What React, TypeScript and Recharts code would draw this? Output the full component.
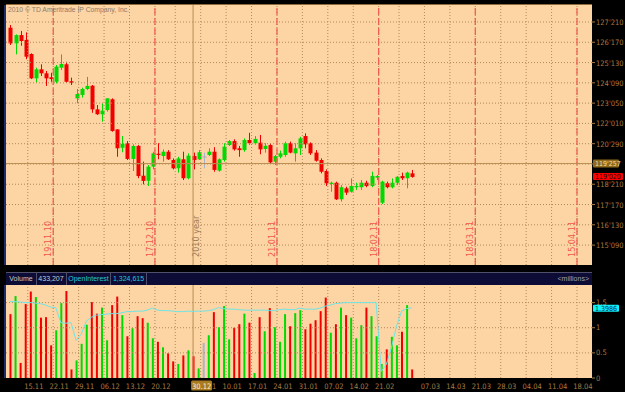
import React from 'react';
import { ComposedChart, Bar, Line, XAxis, YAxis, ReferenceLine, CartesianGrid, Cell } from 'recharts';

// daily OHLC, one entry per trading day (08.11.2010 .. 02.03.2011)
const opens = [
  127.34, 126.47, 126.93, 126.66, 125.88, 124.53, 125.03, 124.81, 124.59, 124.34,
  125.12, 125.31, 124.37, 123.42, 123.61, 123.94, 124.12, 122.81, 122.54, 122.77,
  123.37, 121.7, 120.68, 120.93, 120.06, 120.78, 119.13, 118.85, 119.63, 120.35,
  120.22, 120.46, 120.0, 119.54, 120.04, 118.99, 120.22, 120.04, 120.2, 120.28,
  120.46, 119.41, 120.0, 120.83, 121.05, 120.65, 120.55, 121.11, 120.93, 120.96,
  120.61, 120.83, 119.91, 120.18, 120.28, 120.93, 120.37, 120.65, 121.33, 120.93,
  120.41, 120.0, 119.39, 118.67, 118.74, 117.82, 118.43, 118.24, 118.49, 118.49,
  118.74, 118.56, 119.02, 117.63, 118.71, 118.49, 118.74, 119.11, 118.99, 119.26,
];
const highs = [
  127.49, 126.97, 127.16, 127.08, 125.92, 125.12, 125.31, 124.94, 124.84, 125.27,
  125.86, 125.45, 124.57, 123.94, 124.01, 124.61, 124.16, 123.05, 123.15, 123.42,
  123.42, 121.7, 121.33, 121.05, 120.87, 120.83, 119.91, 119.72, 120.46, 120.93,
  120.59, 120.55, 120.09, 120.18, 120.46, 120.37, 120.41, 120.55, 120.41, 120.65,
  120.71, 120.09, 120.93, 121.11, 121.15, 120.78, 121.2, 121.51, 121.33, 121.39,
  120.93, 120.93, 120.28, 120.52, 121.02, 121.02, 120.93, 121.29, 121.48, 120.98,
  120.55, 120.09, 119.48, 118.8, 118.8, 118.61, 118.52, 118.98, 118.74, 118.89,
  118.85, 119.35, 119.17, 118.85, 118.8, 118.98, 119.11, 119.3, 119.35, 119.45,
];
const lows = [
  126.38, 125.86, 126.34, 125.59, 124.49, 124.29, 124.66, 124.11, 124.34, 124.25,
  124.99, 124.29, 124.16, 123.15, 123.46, 123.88, 122.62, 122.5, 122.13, 122.68,
  121.57, 120.18, 120.43, 120.0, 119.39, 118.99, 118.65, 118.56, 119.48, 120.04,
  119.91, 120.0, 119.48, 119.3, 118.89, 118.93, 119.48, 120.0, 119.54, 120.22,
  119.35, 119.35, 119.91, 120.78, 120.52, 120.18, 120.46, 120.85, 120.85, 120.32,
  120.41, 119.82, 119.72, 120.09, 120.18, 120.37, 119.91, 120.28, 120.65, 120.28,
  119.91, 119.26, 118.56, 118.24, 117.78, 117.69, 118.06, 118.19, 118.34, 118.34,
  118.49, 118.49, 118.89, 117.56, 118.43, 118.43, 118.61, 118.89, 118.43, 119.02,
];
const closes = [
  126.47, 126.93, 126.6, 125.73, 124.53, 125.03, 124.81, 124.53, 124.49, 125.18,
  125.33, 124.34, 124.29, 123.66, 123.94, 124.11, 122.81, 122.54, 122.74, 123.42,
  121.61, 120.65, 120.89, 120.06, 120.78, 119.11, 118.84, 119.63, 120.37, 120.28,
  120.46, 120.04, 119.54, 120.09, 118.99, 120.24, 120.0, 120.43, 120.2, 120.46,
  119.45, 120.04, 120.74, 121.05, 120.59, 120.55, 121.11, 120.93, 121.17, 120.59,
  120.79, 119.87, 120.22, 120.37, 120.93, 120.41, 120.65, 121.2, 120.87, 120.37,
  119.96, 119.35, 118.71, 118.74, 117.82, 118.49, 118.19, 118.56, 118.56, 118.74,
  118.56, 119.11, 119.11, 118.8, 118.49, 118.74, 119.07, 118.99, 119.3, 119.0625,
];
// volume and open interest, millions
const volumes = [
  1.27, 1.63, 0.3, 1.47, 1.72, 1.61, 1.2, 1.21, 0.65, 0.95,
  1.49, 1.73, 0.17, 0.35, 0.68, 1.06, 1.51, 1.28, 1.4, 0.75,
  1.45, 1.62, 1.25, 0.83, 0.99, 1.23, 1.19, 1.1, 0.79, 0.72,
  0.61, 0.49, 0.33, 0.28, 0.45, 0.55, 0.433, 0.19, 0.7, 0.85,
  1.31, 1.01, 1.43, 0.77, 1.0, 1.07, 1.28, 1.1, 0.1, 1.21,
  0.93, 1.39, 1.01, 0.72, 1.27, 1.03, 1.29, 1.35, 0.97, 1.08,
  1.15, 1.33, 1.6, 0.9, 1.07, 1.4, 1.25, 1.2, 0.79, 1.05,
  1.4, 1.23, 0.83, 0.28, 0.57, 0.82, 0.65, 0.92, 1.45, 0.17,
];
const openInterest = [
  1.52, 1.52, 1.51, 1.5, 1.5, 1.49, 1.48, 1.45, 1.41, 1.4,
  1.1, 1.09, 1.1, 0.75, 0.87, 1.13, 1.21, 1.25, 1.26, 1.27,
  1.28, 1.28, 1.3, 1.32, 1.32, 1.33, 1.33, 1.35, 1.39, 1.35,
  1.34, 1.34, 1.33, 1.32, 1.32, 1.33, 1.325, 1.33, 1.33, 1.34,
  1.36, 1.4, 1.38, 1.37, 1.37, 1.36, 1.35, 1.35, 1.35, 1.35,
  1.35, 1.34, 1.34, 1.36, 1.37, 1.36, 1.36, 1.39, 1.37, 1.37,
  1.37, 1.39, 1.43, 1.45, 1.48, 1.49, 1.5, 1.5, 1.5, 1.5,
  1.5, 1.5, 1.5, 0.13, 0.27, 0.6, 1.03, 1.33, 1.38, 1.3986,
];

const priceTicks = [
  115.28125, 116.40625, 117.53125, 118.65625, 119.78125, 120.90625,
  122.03125, 123.15625, 124.28125, 125.40625, 126.53125, 127.65625,
];
const volumeTicks = [0, 0.5, 1, 1.5];

// week boundaries in trading-day units, and their labels ('' = hidden)
const weekStarts = [3.5, 8.5, 13.5, 18.5, 23.5, 28.5, 32.5, 37.5, 42.5, 47.5, 52.5, 57.5,
  62.5, 67.5, 72.5, 76.5, 81.5, 86.5, 91.5, 96.5, 101.5, 106.5, 111.5];
const weekLabels = ['15.11', '22.11', '29.11', '06.12', '13.12', '20.12', '', '03.01', '10.01',
  '17.01', '24.01', '31.01', '07.02', '14.02', '21.02', '', '07.03', '14.03', '21.03', '28.03',
  '04.04', '11.04', '18.04'];
const expiryAt = [8.5, 28.5, 52.5, 72.5, 91.5, 111.5];
const expiryLabels = ['19.11.10', '17.12.10', '21.01.11', '18.02.11', '18.03.11', '15.04.11'];
const yearAt = 37.5;
const yearLabel = '2010 year';

const cursorIndex = 36;
const cursorDate = '30.12';
const cursorPrice = 119.803125;
const headerVolume = '433,207';
const headerOI = '1,324,615';

const lastClose = closes[closes.length - 1];
const lastOI = openInterest[openInterest.length - 1];

const data = opens.map((o, i) => ({
  i,
  range: [lows[i], highs[i]],
  open: o,
  high: highs[i],
  low: lows[i],
  close: closes[i],
  vol: volumes[i],
  oi: openInterest[i],
}));

const NARROW = "'Liberation Sans Narrow', 'DejaVu Sans Condensed', 'Liberation Sans', Arial, sans-serif";
const SANS = "'Liberation Sans', Arial, sans-serif";
const BG = '#FDD4A4';
const GRID = '#B08A58';
const RED = '#F20000';
const GREEN = '#00DA00';
const GRAY = '#A8B4C8';
const EXPIRY = '#F2584A';
const CURSOR = '#B88E50';
const AXIS_TEXT = '#A87A40';
const X_DOMAIN: [number, number] = [-0.787, 114.45];

const colorOf = (o: number, c: number) => (c > o ? GREEN : c < o ? RED : GRAY);

const fmt32 = (p: number) => {
  const whole = Math.floor(p);
  const t = Math.round((p - whole) * 320);
  return `${whole}'${String(t).padStart(3, '0')}`;
};

const Candle = (props: any) => {
  const { x, y, width, height, payload } = props;
  if (!payload) return null;
  const top = Math.min(y, y + height);
  const h = Math.abs(height);
  const k = h / (payload.high - payload.low);
  const yO = top + (payload.high - payload.open) * k;
  const yC = top + (payload.high - payload.close) * k;
  const cx = Math.round(x + width / 2) + 0.5;
  const color = colorOf(payload.open, payload.close);
  return (
    <g>
      <line x1={cx} x2={cx} y1={top} y2={top + h} stroke={color} strokeWidth={1} />
      <rect x={cx - 2} y={Math.min(yO, yC)} width={4} height={Math.max(1.2, Math.abs(yO - yC))} fill={color} />
    </g>
  );
};

const RotatedLabel = (props: any) => {
  const { viewBox, text, color } = props;
  if (!viewBox) return null;
  const x = viewBox.x - 2;
  const y = viewBox.y + viewBox.height - 8;
  return (
    <text x={x} y={y} transform={`rotate(-90 ${x} ${y})`} fill={color} fontSize={9} fontFamily={NARROW}>
      {text}
    </text>
  );
};

const PriceTick = (props: any) => {
  const { x, y, payload } = props;
  const v = payload.value;
  if (v === cursorPrice || v === lastClose) {
    const isCursor = v === cursorPrice;
    return (
      <g>
        <rect x={x - 3} y={y - 4} width={isCursor ? 26 : 30} height={isCursor ? 8 : 7} fill={isCursor ? '#8E6A1C' : '#FF0000'} rx={1} />
        <text x={x - 1} y={y + 2.5} fontSize={7} fontFamily={NARROW} fill={isCursor ? '#F6DFA8' : '#200000'}>{fmt32(v)}</text>
      </g>
    );
  }
  return (
    <g>
      <line x1={x - 4} x2={x - 1} y1={y} y2={y} stroke={AXIS_TEXT} />
      {v !== priceTicks[4] && (
        <text x={x} y={y + 3} fontSize={7.5} fontFamily={NARROW} fill={AXIS_TEXT}>{fmt32(v)}</text>
      )}
    </g>
  );
};

const VolumeTick = (props: any) => {
  const { x, y, payload } = props;
  const v = payload.value;
  if (v === lastOI) {
    return (
      <g>
        <rect x={x - 3} y={y - 3} width={26} height={7} fill="#10F0F8" rx={1} />
        <text x={x - 1} y={y + 3} fontSize={7} fontFamily={NARROW} fill="#003040">{v.toFixed(4)}</text>
      </g>
    );
  }
  return (
    <g>
      <line x1={x - 4} x2={x - 1} y1={y} y2={y} stroke={AXIS_TEXT} />
      <text x={x} y={y + 2.5} fontSize={7.5} fontFamily={NARROW} fill={AXIS_TEXT}>{String(v)}</text>
    </g>
  );
};

const DateTick = (props: any) => {
  const { x, y, payload } = props;
  const v = payload.value;
  if (v === cursorIndex) {
    return (
      <g>
        <rect x={x - 2} y={y + 2.5} width={21} height={10} fill="#A87A22" rx={1.5} />
        <text x={x + 8.5} y={y + 10.5} textAnchor="middle" fontSize={7.5} fontFamily={NARROW} fill="#FFF2D6">{cursorDate}</text>
      </g>
    );
  }
  const label = weekLabels[weekStarts.indexOf(v)];
  if (!label) return null;
  return (
    <text x={x + 6} y={y + 10.5} textAnchor="middle" fontSize={7.5} fontFamily={NARROW} fill={AXIS_TEXT}>{label}</text>
  );
};

export default function App() {
  return (
    <div style={{ position: 'absolute', left: 0, top: 0, width: 625, height: 392, background: '#000', overflow: 'hidden' }}>
      <div style={{ position: 'absolute', left: 6, top: 4, width: 586, height: 1, background: '#8E6A3A' }} />
      <div style={{ position: 'absolute', left: 4, top: 5, width: 2, height: 260, background: '#1C2E6C' }} />
      <div style={{ position: 'absolute', left: 4, top: 285, width: 2, height: 93, background: '#1C2E6C' }} />

      <div style={{ position: 'absolute', left: 0, top: 0 }}>
        <ComposedChart width={625} height={268} data={data} margin={{ top: 5, right: 0, bottom: 3, left: 6 }}>
          <CartesianGrid fill={BG} horizontal={false} vertical={false} stroke="none" />
          <XAxis type="number" dataKey="i" domain={X_DOMAIN} allowDataOverflow hide ticks={weekStarts} />
          <YAxis
            orientation="right"
            width={33}
            domain={[114.176, 128.599]}
            allowDataOverflow
            ticks={[...priceTicks, lastClose, cursorPrice]}
            interval={0}
            tick={<PriceTick />}
            tickLine={false}
            axisLine={false}
            tickSize={3}
            tickMargin={1}
          />
          {priceTicks.map((p) => (
            <ReferenceLine key={`h${p}`} y={p} stroke={GRID} strokeDasharray="1 2" />
          ))}
          {weekStarts.map((w) => (
            <ReferenceLine key={`v${w}`} x={w} stroke={GRID} strokeDasharray="1 2" />
          ))}
          <ReferenceLine x={yearAt} stroke="none" label={<RotatedLabel text={yearLabel} color="#9C7C56" />} />
          {expiryAt.map((e, k) => (
            <ReferenceLine
              key={`e${e}`}
              x={e}
              stroke={EXPIRY}
              strokeWidth={1.2}
              strokeDasharray="7 3"
              label={<RotatedLabel text={expiryLabels[k]} color={EXPIRY} />}
            />
          ))}
          <ReferenceLine x={cursorIndex} stroke={CURSOR} />
          <ReferenceLine y={cursorPrice} stroke={CURSOR} />
          <Bar dataKey="range" barSize={4} isAnimationActive={false} shape={(p: any) => <Candle {...p} />} />
        </ComposedChart>
      </div>

      <div style={{ position: 'absolute', left: 8, top: 6, fontFamily: SANS, fontSize: 6.8, color: '#8A7C6C', whiteSpace: 'nowrap' }}>
        2010 © TD Ameritrade IP Company, Inc.
      </div>

      <div
        style={{
          position: 'absolute', left: 6, top: 272, width: 586, height: 13, background: '#0C0C36',
          boxSizing: 'border-box', borderTop: '1px solid #50506A', fontFamily: SANS, fontSize: 7, lineHeight: '12px',
        }}
      >
        <span style={{ position: 'absolute', left: 0, width: 30, textAlign: 'center', color: '#C8C8C8', borderRight: '1px solid #50506A' }}>Volume</span>
        <span style={{ position: 'absolute', left: 30, width: 30, textAlign: 'center', color: '#C8C8C8', borderRight: '1px solid #50506A' }}>{headerVolume}</span>
        <span style={{ position: 'absolute', left: 61, width: 43, textAlign: 'center', color: '#22C8D8', borderRight: '1px solid #50506A' }}>OpenInterest</span>
        <span style={{ position: 'absolute', left: 105, width: 35, textAlign: 'center', color: '#22C8D8', borderRight: '1px solid #50506A' }}>{headerOI}</span>
        <span style={{ position: 'absolute', right: 3, color: '#A0A0A8' }}>{'<millions>'}</span>
      </div>

      <div style={{ position: 'absolute', left: 0, top: 268 }}>
        <ComposedChart width={625} height={124} data={data} margin={{ top: 17, right: 0, bottom: 0, left: 6 }}>
          <CartesianGrid fill={BG} horizontal={false} vertical={false} stroke="none" />
          <XAxis
            type="number"
            dataKey="i"
            domain={X_DOMAIN}
            allowDataOverflow
            ticks={[...weekStarts, cursorIndex]}
            interval={0}
            tick={<DateTick />}
            tickLine={false}
            axisLine={false}
            height={14}
            tickSize={0}
            tickMargin={0}
          />
          <YAxis
            orientation="right"
            width={33}
            domain={[0, 1.85]}
            allowDataOverflow
            ticks={[...volumeTicks, lastOI]}
            interval={0}
            tick={<VolumeTick />}
            tickLine={false}
            axisLine={false}
            tickSize={3}
            tickMargin={1}
          />
          {volumeTicks.slice(1).map((v) => (
            <ReferenceLine key={`vh${v}`} y={v} stroke={GRID} strokeDasharray="1 2" />
          ))}
          {weekStarts.map((w) => (
            <ReferenceLine key={`vv${w}`} x={w} stroke={GRID} strokeDasharray="1 2" />
          ))}
          <ReferenceLine x={cursorIndex} stroke={CURSOR} />
          <Bar dataKey="vol" barSize={2} isAnimationActive={false}>
            {data.map((d) => (
              <Cell key={d.i} fill={colorOf(d.open, d.close)} />
            ))}
          </Bar>
          <Line dataKey="oi" type="linear" stroke="#6EE6E6" strokeWidth={1} dot={false} isAnimationActive={false} />
        </ComposedChart>
      </div>
    </div>
  );
}
